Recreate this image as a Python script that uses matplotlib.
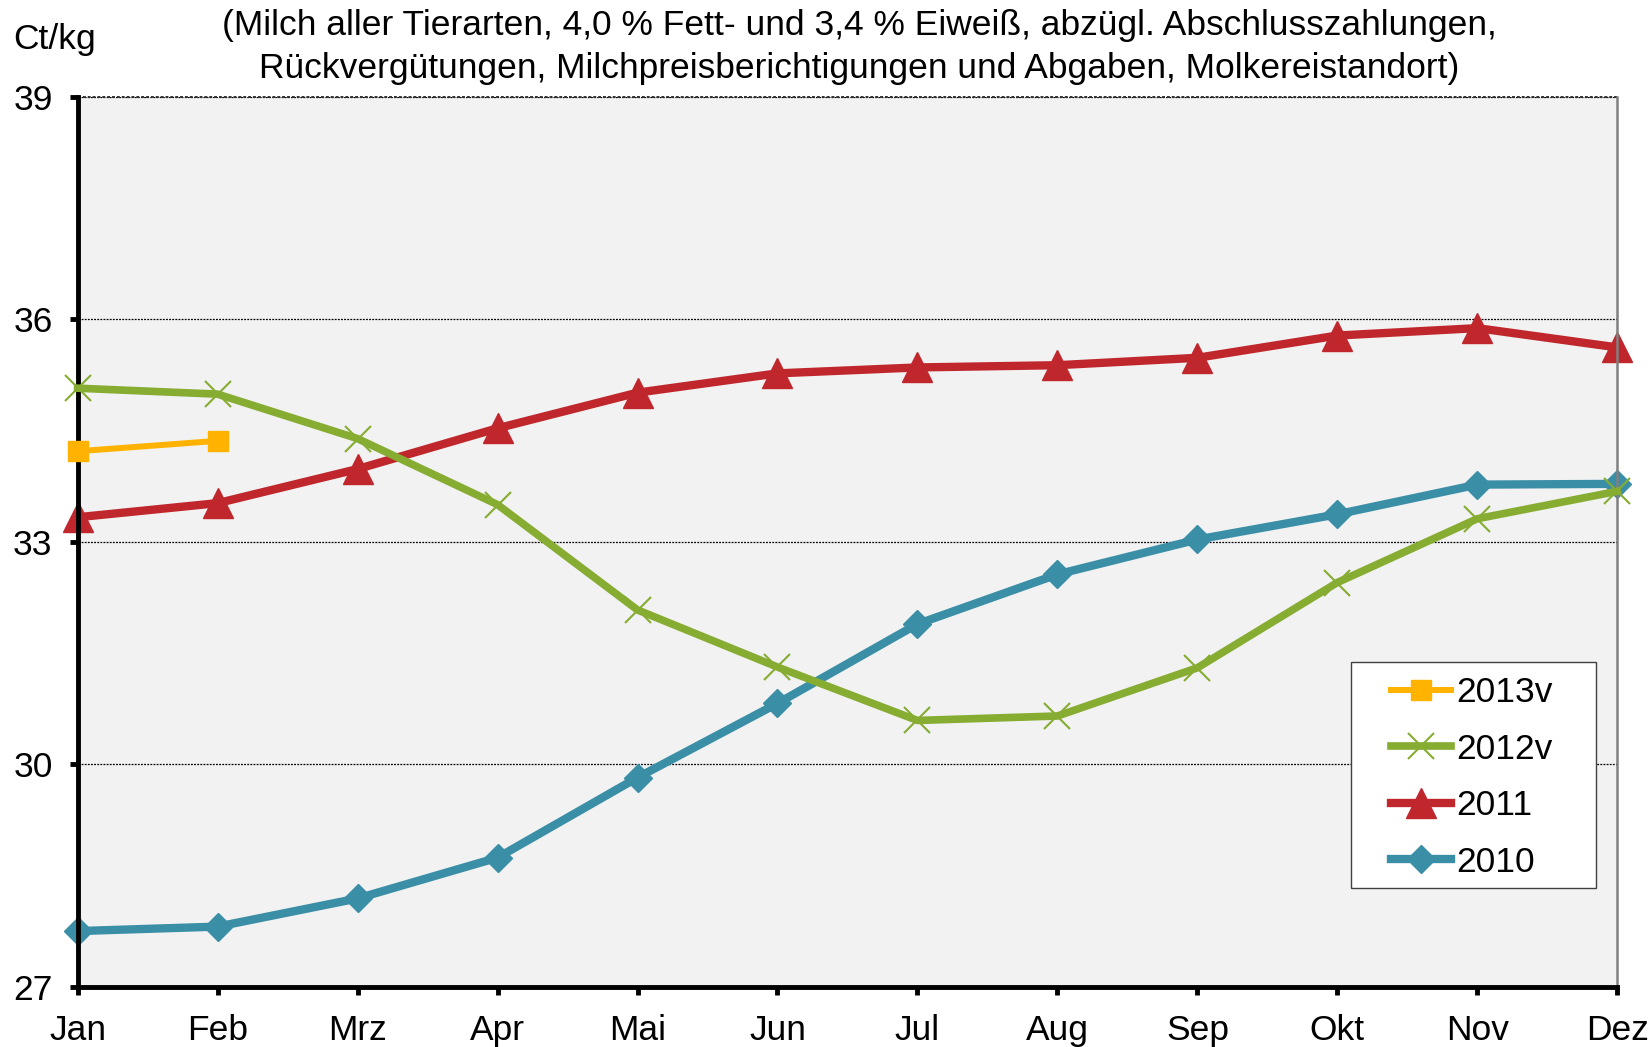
import matplotlib.pyplot as plt
from matplotlib.patches import Rectangle

plt.rcParams['font.family'] = ['Liberation Sans', 'DejaVu Sans']

months = ['Jan', 'Feb', 'Mrz', 'Apr', 'Mai', 'Jun', 'Jul', 'Aug', 'Sep', 'Okt', 'Nov', 'Dez']
y2013v = [34.22, 34.36]
y2012v = [35.07, 34.99, 34.39, 33.50, 32.08, 31.31, 30.59, 30.65, 31.30, 32.45, 33.31, 33.68]
y2011 = [33.33, 33.52, 33.98, 34.53, 35.01, 35.27, 35.35, 35.38, 35.48, 35.78, 35.88, 35.62]
y2010 = [27.75, 27.81, 28.19, 28.74, 29.82, 30.82, 31.89, 32.56, 33.03, 33.37, 33.77, 33.78]
yticks = [27, 30, 33, 36, 39]

fs = 25.5

fig = plt.figure(figsize=(16.52, 10.47), dpi=100)
ax = fig.add_axes([0.047, 0.0576, 0.932, 0.85])
ax.set_facecolor('#f2f2f2')

x = list(range(len(months)))
ax.plot(x[:len(y2013v)], y2013v, color='#ffb300', lw=4.3, marker='s', ms=15,
        label='2013v', clip_on=False, zorder=3.5)
ax.plot(x, y2012v, color='#86ac31', lw=5.5, marker='x', ms=19, mew=1.5,
        label='2012v', clip_on=False, zorder=3)
ax.plot(x, y2011, color='#c0272d', lw=6, marker='^', ms=21,
        label='2011', clip_on=False, zorder=2.5)
ax.plot(x, y2010, color='#3a8fa6', lw=6, marker='D', ms=14,
        label='2010', clip_on=False, zorder=2)

ax.set_xlim(0, 11)
ax.set_ylim(27, 39)
ax.set_yticks(yticks)
ax.set_xticks(x)
ax.set_xticklabels(months)
for v in yticks[1:]:
    ax.axhline(v, color='black', lw=0.9, ls=(0, (1.5, 1)), zorder=1)
ax.axhline(39, color='#303030', lw=1.4, ls=(0, (1.5, 1)), zorder=1, clip_on=False)

for s in ['left', 'bottom']:
    ax.spines[s].set_linewidth(3.5)
    ax.spines[s].set_color('black')
ax.spines['top'].set_visible(False)
ax.spines['right'].set_color('#808080')
ax.spines['right'].set_linewidth(1.8)
ax.tick_params(axis='both', direction='out', length=6, width=3.5, labelsize=fs)
ax.tick_params(axis='y', pad=12)
ax.tick_params(axis='x', pad=14)

fig.text(0.008, 0.962, 'Ct/kg', fontsize=fs, ha='left', va='center')
fig.text(0.52, 0.9555,
         '(Milch aller Tierarten, 4,0 % Fett- und 3,4 % Eiweiß, abzügl. Abschlusszahlungen,\n'
         'Rückvergütungen, Milchpreisberichtigungen und Abgaben, Molkereistandort)',
         fontsize=fs, ha='center', va='center', linespacing=1.38)

# legend box drawn separately so the side padding can differ from the top/bottom padding
ax.add_patch(Rectangle((0.827, 0.111), 0.159, 0.254, transform=ax.transAxes,
                       facecolor='white', edgecolor='#404040', lw=1, zorder=4))
leg = ax.legend(loc='center left', bbox_to_anchor=(0.853, 0.235), fontsize=fs,
                frameon=False, handlelength=1.7, handletextpad=0.15,
                labelspacing=0.66, borderpad=0, borderaxespad=0)
leg.set_zorder(5)

plt.savefig('out.png', dpi=100)
